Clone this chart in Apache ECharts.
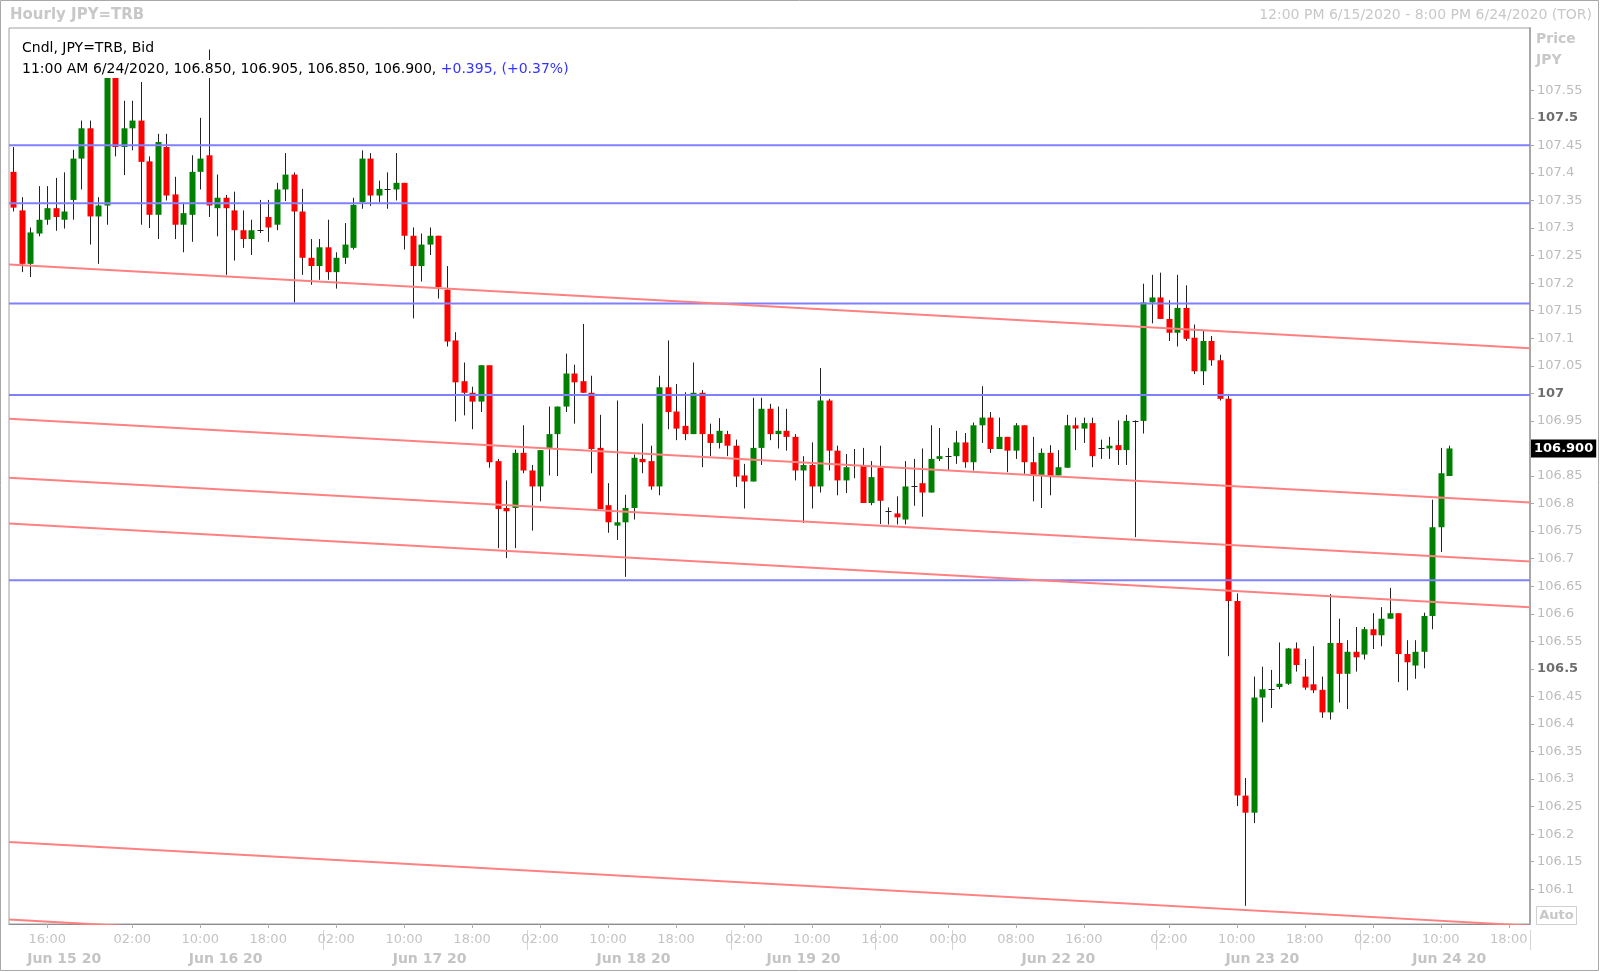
<!DOCTYPE html>
<html><head><meta charset="utf-8">
<script src="https://cdn.jsdelivr.net/npm/echarts@6/dist/echarts.min.js"></script>
<style>html,body{margin:0;padding:0;background:#fff}#c{width:1600px;height:972px}</style>
</head><body><div id="c"></div>
<script>
// ---- data ----
const sessions = [
  ['06-15', 12, 23], ['06-16', 0, 23], ['06-17', 0, 23], ['06-18', 0, 23],
  ['06-19', 0, 17], ['06-21', 16, 23], ['06-22', 0, 23], ['06-23', 0, 23], ['06-24', 0, 20]
];
const timeTicks = ['06-15 16:00','06-16 02:00','06-16 10:00','06-16 18:00','06-17 02:00','06-17 10:00','06-17 18:00',
  '06-18 02:00','06-18 10:00','06-18 18:00','06-19 02:00','06-19 10:00','06-21 16:00','06-22 00:00','06-22 08:00',
  '06-22 16:00','06-23 02:00','06-23 10:00','06-23 18:00','06-24 02:00','06-24 10:00','06-24 18:00'];
const priceTicks = [106.1,106.15,106.2,106.25,106.3,106.35,106.4,106.45,106.5,106.55,106.6,106.65,106.7,106.75,
  106.8,106.85,106.9,106.95,107,107.05,107.1,107.15,107.2,107.25,107.3,107.35,107.4,107.45,107.5,107.55];
const boldPrices = [106.5, 107, 107.5];
const opens = [
107.402,107.332,107.235,107.290,107.315,107.336,107.315,107.351,107.426,107.481,
107.321,107.341,107.580,107.447,107.481,107.495,107.421,107.324,107.447,107.361,
107.306,107.324,107.402,107.432,107.336,107.355,107.332,107.296,107.280,107.296,
107.320,107.306,107.370,107.397,107.330,107.246,107.231,107.265,107.220,107.246,
107.264,107.347,107.426,107.359,107.371,107.370,107.382,107.286,107.231,107.270,
107.286,107.188,107.096,107.022,107.001,106.985,107.051,106.877,106.792,106.792,
106.892,106.860,106.831,106.901,106.926,106.976,107.036,107.022,107.001,106.901,
106.797,106.760,106.766,106.792,106.881,106.877,106.831,107.011,106.967,106.941,
106.926,107.001,106.926,106.910,106.926,106.905,106.851,106.840,106.901,106.972,
106.926,106.932,106.921,106.860,106.870,106.831,106.987,106.896,106.842,106.870,
106.870,106.801,106.865,106.787,106.782,106.771,106.831,106.837,106.820,106.881,
106.886,106.886,106.911,106.875,106.942,106.956,106.899,106.921,106.896,106.942,
106.875,106.852,106.892,106.851,106.865,106.942,106.936,106.946,106.901,106.900,
106.906,106.897,106.950,106.950,107.165,107.174,107.135,107.110,107.155,107.101,
107.040,107.095,107.060,106.990,106.623,106.270,106.239,106.448,106.463,106.467,
106.473,106.537,106.486,106.472,106.462,106.421,106.547,106.491,106.531,106.526,
106.572,106.561,106.591,106.601,106.527,106.506,106.531,106.596,106.757,106.850];
const closes = [
107.337,107.235,107.292,107.315,107.336,107.320,107.330,107.426,107.481,107.321,
107.341,107.580,107.447,107.481,107.495,107.420,107.324,107.456,107.359,107.306,
107.327,107.402,107.426,107.341,107.355,107.336,107.296,107.280,107.296,107.297,
107.301,107.370,107.397,107.330,107.246,107.231,107.265,107.220,107.246,107.270,
107.342,107.426,107.359,107.371,107.372,107.382,107.286,107.231,107.270,107.286,
107.193,107.094,107.020,107.001,106.985,107.051,106.875,106.790,106.786,106.892,
106.860,106.831,106.897,106.926,106.976,107.036,107.020,107.001,106.899,106.790,
106.766,106.766,106.792,106.883,106.875,106.831,107.011,106.966,106.936,106.926,
107.001,106.926,106.910,106.932,106.905,106.849,106.840,106.901,106.972,106.926,
106.932,106.921,106.860,106.870,106.831,106.987,106.896,106.842,106.866,106.869,
106.801,106.848,106.805,106.788,106.775,106.831,106.832,106.820,106.881,106.886,
106.887,106.911,106.875,106.942,106.956,106.899,106.921,106.896,106.942,106.875,
106.852,106.892,106.848,106.866,106.942,106.936,106.946,106.886,106.902,106.905,
106.897,106.950,106.951,107.165,107.174,107.135,107.110,107.155,107.099,107.040,
107.095,107.060,106.990,106.623,106.270,106.239,106.448,106.463,106.464,106.473,
106.537,106.507,106.466,106.461,106.421,106.547,106.491,106.531,106.521,106.572,
106.561,106.591,106.601,106.527,106.512,106.531,106.596,106.757,106.855,106.900];
const lows = [
107.330,107.220,107.211,107.285,107.306,107.295,107.299,107.315,107.370,107.270,
107.235,107.306,107.430,107.396,107.441,107.306,107.300,107.280,107.350,107.280,
107.256,107.275,107.370,107.320,107.285,107.215,107.241,107.264,107.251,107.291,
107.275,107.296,107.349,107.165,107.215,107.197,107.206,107.206,107.190,107.235,
107.261,107.335,107.340,107.347,107.335,107.350,107.261,107.136,107.203,107.251,
107.172,107.085,106.949,106.960,106.935,106.966,106.865,106.719,106.701,106.719,
106.855,106.751,106.804,106.851,106.850,106.966,106.945,107.001,106.855,106.790,
106.747,106.734,106.667,106.771,106.855,106.825,106.815,106.935,106.915,106.915,
106.926,106.866,106.886,106.900,106.886,106.830,106.791,106.840,106.870,106.915,
106.900,106.896,106.842,106.765,106.791,106.820,106.860,106.815,106.819,106.846,
106.801,106.797,106.763,106.762,106.762,106.762,106.796,106.776,106.820,106.877,
106.861,106.872,106.865,106.860,106.910,106.892,106.899,106.857,106.881,106.854,
106.804,106.792,106.815,106.851,106.865,106.897,106.910,106.866,106.881,106.881,
106.870,106.870,106.739,106.927,107.127,107.135,107.095,107.085,107.095,107.035,
107.015,107.050,106.987,106.523,106.251,106.070,106.220,106.403,106.429,106.463,
106.471,106.495,106.462,106.456,106.411,106.408,106.439,106.427,106.495,106.517,
106.536,106.541,106.591,106.476,106.461,106.482,106.501,106.572,106.712,106.850];
const highs = [
107.447,107.356,107.301,107.376,107.376,107.391,107.401,107.442,107.495,107.495,
107.356,107.590,107.590,107.531,107.531,107.565,107.430,107.471,107.471,107.393,
107.346,107.432,107.500,107.624,107.397,107.360,107.366,107.332,107.315,107.351,
107.351,107.382,107.436,107.401,107.371,107.280,107.280,107.315,107.256,107.309,
107.355,107.441,107.436,107.386,107.401,107.436,107.382,107.301,107.290,107.301,
107.286,107.231,107.111,107.056,107.012,107.051,107.051,106.881,106.842,106.898,
106.942,106.870,106.897,106.976,106.976,107.072,107.052,107.126,107.032,106.961,
106.837,106.987,106.816,106.889,106.945,106.905,107.032,107.096,107.017,107.002,
107.056,107.006,106.945,106.955,106.932,106.916,106.872,106.992,106.992,106.981,
106.976,106.972,106.926,106.886,106.911,107.046,106.990,106.905,106.890,106.899,
106.901,106.877,106.905,106.793,106.813,106.877,106.881,106.900,106.942,106.937,
106.901,106.932,106.928,106.947,107.013,106.966,106.956,106.921,106.946,106.942,
106.921,106.900,106.906,106.897,106.961,106.956,106.956,106.956,106.916,106.921,
106.951,106.961,106.951,107.199,107.215,107.219,107.169,107.215,107.196,107.125,
107.114,107.104,107.070,106.999,106.637,106.302,106.486,106.504,106.498,106.548,
106.538,106.548,106.518,106.541,106.486,106.636,106.591,106.552,106.576,106.576,
106.601,106.612,106.647,106.601,106.552,106.552,106.602,106.807,106.901,106.905];
const levels = [107.45, 107.345, 107.163, 106.997, 106.661];
const trendStart = [107.234, 106.954, 106.847, 106.764, 106.186, 106.045];
const trendEnd   = [107.082, 106.802, 106.695, 106.612, 106.034, 105.893];
const priceMin = 106.037, priceMax = 107.663;
const changeText = '+0.395, (+0.37%)';

// ---- build ----
const FONT = '"DejaVu Sans", Verdana, sans-serif';
const months = {'06': 'Jun'};
const categories = [];
sessions.forEach(([d, h0, h1]) => { for (let h = h0; h <= h1; h++) categories.push(d + ' ' + String(h).padStart(2, '0') + ':00'); });
const N = categories.length;
const timeSet = new Set(timeTicks);
const dayKey = categories.map((c, i) => (c.slice(6, 8) === '00' && i > 0) ? categories[i - 1].slice(0, 5) : c.slice(0, 5));
const groups = [];
dayKey.forEach((k, i) => {
  const g = groups[groups.length - 1];
  if (!g || g.key !== k) groups.push({key: k, first: i, end: i + 1}); else g.end = i + 1;
});
const dateLabelAt = new Map(); const sepAt = new Set();
groups.forEach((g, gi) => {
  if (g.end - g.first >= 12) dateLabelAt.set(Math.floor((g.first + g.end) / 2), months[g.key.slice(0, 2)] + ' ' + g.key.slice(3) + ' 20');
  if (gi > 1) sepAt.add(g.first);
});
const candleData = opens.map((o, i) => [i, o, closes[i], lows[i], highs[i]]);
const last = opens.length - 1;
const lastPrice = closes[last];
const fmt3 = v => v.toFixed(3);
const legendLine = '11:00 AM 6/24/2020, ' + [opens[last], highs[last], lows[last], closes[last]].map(fmt3).join(', ') + ', {b|' + changeText + '}';
const fmtPrice = v => String(+(+v).toFixed(2));

const series = [{
  type: 'custom', xAxisIndex: 0, yAxisIndex: 0, clip: true, z: 3,
  encode: {x: 0, y: [1, 2, 3, 4]},
  data: candleData,
  renderItem: (params, api) => {
    const i = api.value(0), o = api.value(1), c = api.value(2), l = api.value(3), h = api.value(4);
    const pH = api.coord([i, h]), pL = api.coord([i, l]);
    const yO = api.coord([i, o])[1], yC = api.coord([i, c])[1];
    const xc = Math.round(pH[0]) + 0.5;
    const children = [{type: 'line', shape: {x1: xc, y1: pH[1], x2: xc, y2: pL[1]}, style: {stroke: '#222', lineWidth: 1}}];
    if (Math.abs(c - o) < 0.0015) {
      const y = Math.round(yO) + 0.5;
      children.push({type: 'line', shape: {x1: xc - 3, y1: y, x2: xc + 3, y2: y}, style: {stroke: '#222', lineWidth: 1}});
    } else {
      const top = Math.min(yO, yC), bot = Math.max(yO, yC);
      children.push({type: 'rect', shape: {x: xc - 3, y: top, width: 6, height: Math.max(bot - top, 1)},
        style: {fill: c > o ? '#008000' : '#ff0000'}});
    }
    return {type: 'group', children};
  }
}];
levels.forEach((v, k) => series.push({
  type: 'line', xAxisIndex: 2, yAxisIndex: 0, symbol: 'none', silent: true, z: 5,
  data: [[-0.5, v], [N - 0.5, v]], lineStyle: {color: '#8080ff', width: 2}
}));
trendStart.forEach((s, k) => series.push({
  type: 'line', xAxisIndex: 2, yAxisIndex: 0, symbol: 'none', silent: true, z: 5,
  data: [[-0.5, s], [N - 0.5, trendEnd[k]]], lineStyle: {color: '#ff8080', width: 2}
}));
// current price tag
series.push({
  type: 'line', xAxisIndex: 2, yAxisIndex: 0, symbol: 'none', silent: true, z: 20,
  data: [], lineStyle: {width: 0},
  markLine: {
    silent: true, symbol: ['none', 'none'], z: 20,
    lineStyle: {color: 'rgba(0,0,0,0)', width: 1, type: 'solid'},
    label: {show: true, position: 'end', distance: 1, formatter: () => lastPrice.toFixed(3), color: '#fff', backgroundColor: '#000',
      fontFamily: FONT, fontWeight: 'bold', fontSize: 13, padding: [3, 3, 2, 3]},
    data: [{yAxis: lastPrice}]
  }
});

const chart = echarts.init(document.getElementById('c'), null, {renderer: 'canvas'});
chart.setOption({
  animation: false,
  backgroundColor: '#fff',
  textStyle: {fontFamily: FONT},
  grid: {left: 9, right: 70, top: 28, bottom: 48, show: true, borderColor: '#a0a0a0', borderWidth: 1, backgroundColor: '#fff'},
  xAxis: [
    {type: 'category', data: categories, boundaryGap: true, position: 'bottom',
      axisLine: {show: true, onZero: false, lineStyle: {color: '#8c8c8c', width: 1}},
      axisTick: {show: true, alignWithLabel: true, length: 4, interval: (i, v) => timeSet.has(v), lineStyle: {color: '#b0b0b0'}},
      axisLabel: {interval: (i, v) => timeSet.has(v), formatter: v => v.slice(6), color: '#c4c4c4', fontFamily: FONT, fontSize: 13, margin: 9},
      splitLine: {show: false}},
    {type: 'category', data: categories, boundaryGap: true, position: 'bottom', offset: 6,
      axisLine: {show: false, onZero: false},
      axisTick: {show: true, length: 20, interval: (i) => sepAt.has(i), lineStyle: {color: '#d4d4d4'}},
      axisLabel: {interval: (i) => dateLabelAt.has(i), formatter: (v, i) => dateLabelAt.get(i) || '', color: '#c4c4c4',
        fontFamily: FONT, fontSize: 14, fontWeight: 'bold', margin: 22},
      splitLine: {show: false}},
    {type: 'value', min: -0.5, max: N - 0.5, show: false, axisLine: {onZero: false}}
  ],
  yAxis: [{
    type: 'value', position: 'right', min: priceMin, max: priceMax,
    splitLine: {show: false},
    axisLine: {show: true, onZero: false, lineStyle: {color: '#a8a8a8', width: 2}},
    axisTick: {show: true, length: 4, customValues: priceTicks, lineStyle: {color: '#a8a8a8'}},
    axisLabel: {customValues: priceTicks, margin: 7, color: '#bcbcbc', fontFamily: FONT, fontSize: 13,
      formatter: v => Math.abs(v - lastPrice) < 1e-6 ? '' : (boldPrices.some(b => Math.abs(b - v) < 1e-6) ? '{b|' + fmtPrice(v) + '}' : fmtPrice(v)),
      rich: {b: {fontWeight: 'bold', color: '#6e6e6e', fontFamily: FONT, fontSize: 13}}}
  }],
  series,
  graphic: [
    {type: 'rect', silent: true, z: 0, shape: {x: 0.5, y: 0.5, width: 1598, height: 970}, style: {fill: 'none', stroke: '#a8a8a8', lineWidth: 1}},
    {type: 'text', x: 10, y: 15, style: {text: 'Hourly JPY=TRB', font: 'bold 15px ' + FONT, fill: '#c8c8c8', verticalAlign: 'middle', textVerticalAlign: 'middle'}},
    {type: 'text', x: 1592, y: 15, style: {text: '12:00 PM 6/15/2020 - 8:00 PM 6/24/2020 (TOR)', font: '14px ' + FONT, fill: '#c8c8c8',
      align: 'right', textAlign: 'right', verticalAlign: 'middle', textVerticalAlign: 'middle'}},
    {type: 'text', x: 20, y: 48, z: 100, style: {text: 'Cndl, JPY=TRB, Bid', font: '14px ' + FONT, fill: '#000',
      verticalAlign: 'middle', textVerticalAlign: 'middle', backgroundColor: '#fff', padding: [2, 2]}},
    {type: 'text', x: 20, y: 69, z: 100, style: {text: legendLine, font: '14px ' + FONT, fill: '#000',
      rich: {b: {fill: '#3434ff', font: '14px ' + FONT}},
      verticalAlign: 'middle', textVerticalAlign: 'middle', backgroundColor: '#fff', padding: [2, 2]}},
    {type: 'text', x: 1536, y: 39, style: {text: 'Price', font: 'bold 14px ' + FONT, fill: '#c8c8c8', verticalAlign: 'middle', textVerticalAlign: 'middle'}},
    {type: 'text', x: 1536, y: 60, style: {text: 'JPY', font: 'bold 14px ' + FONT, fill: '#c8c8c8', verticalAlign: 'middle', textVerticalAlign: 'middle'}},
    {type: 'rect', z: 50, shape: {x: 1536.5, y: 906.5, width: 40, height: 18}, style: {fill: '#fff', stroke: '#d0d0d0', lineWidth: 1}},
    {type: 'text', z: 51, x: 1556.5, y: 916, style: {text: 'Auto', font: 'bold 13px ' + FONT, fill: '#c8c8c8',
      align: 'center', textAlign: 'center', verticalAlign: 'middle', textVerticalAlign: 'middle'}}
  ]
});
</script></body></html>
